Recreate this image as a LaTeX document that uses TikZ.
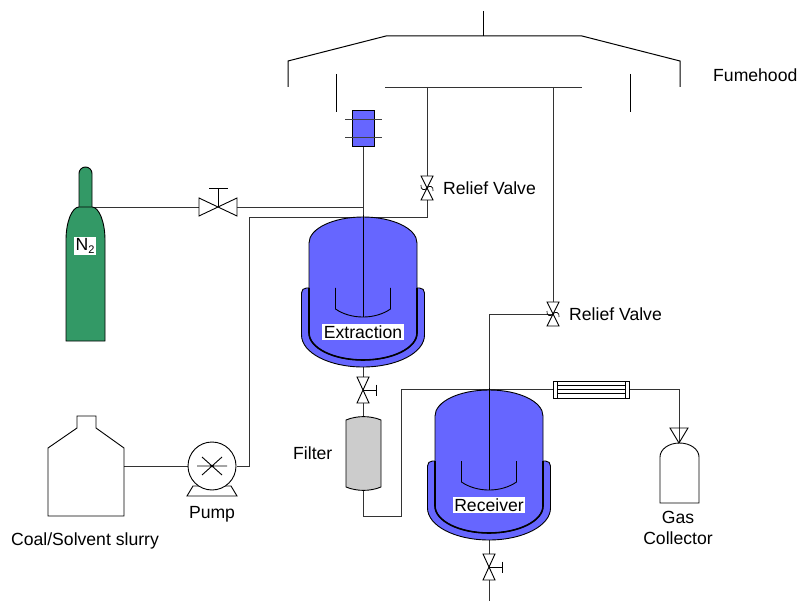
\documentclass[tikz,border=0pt]{standalone}
\usepackage{fontspec}
\setmainfont{Liberation Sans}
\definecolor{vesselblue}{HTML}{6666FF}
\definecolor{cylgreen}{HTML}{339966}
\definecolor{filtergray}{HTML}{CCCCCC}

% jacketed, stirred vessel: #1,#2 = dome apex, #3 = node name, #4 = label
\newcommand{\jacketedvessel}[4]{%
\begin{scope}[shift={(#1,#2)}]
  % heating jacket
  \filldraw[outline, fill=vesselblue] (-54,71) -- (-56.5,71)
    .. controls (-59.5,71) and (-61.5,73) .. (-61.5,76) -- (-61.5,118)
    .. controls (-61.5,135.7) and (-34,150) .. (0,150)
    .. controls (34,150) and (61.5,135.7) .. (61.5,118) -- (61.5,76)
    .. controls (61.5,73) and (59.5,71) .. (56.5,71) -- (54,71);
  % vessel shell
  \filldraw[outline, fill=vesselblue] (-54,26) -- (-54,116)
    .. controls (-54,130.9) and (-29.8,143) .. (0,143)
    .. controls (29.8,143) and (54,130.9) .. (54,116) -- (54,26)
    .. controls (54,11.6) and (29.8,0) .. (0,0)
    .. controls (-29.8,0) and (-54,11.6) .. (-54,26) -- cycle;
  \draw[line width=1.6pt] (-54,71) -- (-54,116)
    .. controls (-54,130.9) and (-29.8,143) .. (0,143)
    .. controls (29.8,143) and (54,130.9) .. (54,116) -- (54,71);
  % agitator
  \draw[outline] (0,-2) -- (0,100);
  \draw[outline] (-27.5,71) -- (-27.5,92)
    .. controls (-12,102.7) and (12,102.7) .. (27.5,92) -- (27.5,71);
  \node[tag] (#3) at (0,115) {#4};
\end{scope}}

% manual valve on a vertical line, handle to the right
\newcommand{\vvalve}[2]{%
\begin{scope}[shift={(#1,#2)}]
  \draw[outline, fill=white] (-6,-13) -- (6,-13) -- (0,0) -- cycle;
  \draw[outline, fill=white] (-6,13) -- (6,13) -- (0,0) -- cycle;
  \draw[outline] (0,0) -- (13,0) (13,-5.5) -- (13,5.5);
\end{scope}}

% spring-loaded relief valve on a vertical line
\newcommand{\reliefvalve}[2]{%
\begin{scope}[shift={(#1,#2)}]
  \draw[outline, fill=white] (-6,-12) -- (6,-12) -- (0,0) -- cycle;
  \draw[outline, fill=white] (-6,12) -- (6,12) -- (0,0) -- cycle;
  \draw[outline, line width=0.7pt] (-6,-3) .. controls (-7,2) and (-2,3) .. (0,0)
    .. controls (2,-3) and (7,-2) .. (6,3);
\end{scope}}

\begin{document}
\begin{tikzpicture}[x=1pt,y=-1pt,
  line join=miter,
  pipe/.style={draw=black!80, line width=0.9pt},
  outline/.style={draw=black, line width=0.9pt},
  hood/.style={draw=black, line width=1pt},
  lbl/.style={font=\fontsize{17.6}{21}\selectfont, inner sep=0pt},
  tag/.style={font=\fontsize{17.6}{21}\selectfont, fill=white, inner sep=1.5pt},
]
\useasboundingbox (0,0) rectangle (797,601);

% ---------------- fume hood ----------------
\draw[hood] (483,11) -- (483,36);
\draw[hood] (288,87) -- (288,61) -- (386,36) -- (582,36) -- (680,61) -- (680,87);
\draw[hood] (336,74) -- (336,112);
\draw[hood] (630,74) -- (630,112);
\draw[pipe] (385,87) -- (582,87);
\node[lbl, anchor=west] (fumehood) at (713,75) {Fumehood};

% ---------------- key ports ----------------
\coordinate (ventA) at (427,87);
\coordinate (ventB) at (553,87);
\coordinate (rv1) at (427,188);
\coordinate (rv2) at (553,314);
\coordinate (tee) at (363,207);
\coordinate (pumpc) at (212,466);

% ---------------- pipes ----------------
% vents to the hood header
\draw[pipe] (ventA) -- ([yshift=-12pt]rv1);
\draw[pipe] ([yshift=12pt]rv1) -- (427,217) -- (249,217) -- (249,466) -- (237,466);
\draw[pipe] (ventB) -- ([yshift=-12pt]rv2);
\draw[pipe] (rv2) -- (489,314) -- (489,390);
% nitrogen supply
\draw[pipe] (92,207) -- (199,207);
\draw[pipe] (237,207) -- (tee);
% condenser to extraction vessel
\draw[pipe] (363,146) -- (363,217);
% extraction outlet through filter to the heat exchanger
\draw[pipe] (363,367) -- (363,416);
\draw[pipe] (363,491) -- (363,516) -- (401,516) -- (401,389) -- (553,389);
\draw[pipe] (629,389) -- (679,389) -- (679,443);
% slurry feed
\draw[pipe] (124,466) -- (188,466);
% receiver drain
\draw[pipe] (489,540) -- (489,601);

% ---------------- overhead condenser ----------------
\filldraw[outline, fill=vesselblue] (352,110) rectangle (374,146);
\draw[outline, draw=black!75] (345,119) -- (382,119) (345,137) -- (382,137);

% ---------------- vessels ----------------
\jacketedvessel{363}{217}{extraction}{Extraction}
\jacketedvessel{489}{390}{receiver}{Receiver}

% ---------------- valves ----------------
\reliefvalve{427}{188}
\reliefvalve{553}{314}
\node[lbl, anchor=west] (rvlabel1) at (443,188) {Relief Valve};
\node[lbl, anchor=west] (rvlabel2) at (569,314) {Relief Valve};

\vvalve{363}{390}
\vvalve{489}{567}

% nitrogen valve (horizontal line, handwheel up)
\draw[outline, fill=white] (199,198) -- (199,216) -- (218,207) -- cycle;
\draw[outline, fill=white] (237,198) -- (237,216) -- (218,207) -- cycle;
\draw[outline] (218,207) -- (218,188) (209,188) -- (228,188);

% ---------------- nitrogen cylinder ----------------
\filldraw[outline, fill=cylgreen] (79,207) -- (79,173.5)
  .. controls (79,169.9) and (81.9,167) .. (85.5,167)
  .. controls (89.1,167) and (92,169.9) .. (92,173.5) -- (92,207);
\filldraw[outline, fill=cylgreen] (66,341) -- (66,240)
  .. controls (66,222) and (72,207) .. (79,207) -- (92,207)
  .. controls (99,207) and (105,222) .. (105,240) -- (105,341) -- cycle;
\node[font=\fontsize{17.6}{21}\selectfont, fill=white, inner sep=1.5pt] (n2) at (85,246)
  {N\raisebox{-0.35ex}{\fontsize{11}{11}\selectfont 2}};

% ---------------- filter ----------------
\filldraw[outline, fill=filtergray] (346,420)
  .. controls (357,415.5) and (370,415.5) .. (381,420) -- (381,487)
  .. controls (370,491.5) and (357,491.5) .. (346,487) -- cycle;
\node[lbl, anchor=west] (filter) at (293,453) {Filter};

% ---------------- gas/liquid heat exchanger ----------------
\draw[outline, fill=white] (553,381) rectangle (629,398);
\draw[outline] (557,381) -- (557,398) (625,381) -- (625,398);
\draw[outline] (557,385.5) -- (625,385.5) (557,389.5) -- (625,389.5) (557,393.5) -- (625,393.5);

% ---------------- gas collector ----------------
\draw[outline] (660,503) -- (660,457)
  .. controls (660,449.3) and (668.7,443) .. (679.5,443)
  .. controls (690.3,443) and (699,449.3) .. (699,457) -- (699,503) -- cycle;
\draw[outline] (670,428) -- (688,428) -- (679,443) -- cycle;
\node[lbl, align=center, font=\fontsize{17.6}{21}\selectfont] (gascollector) at (678,528) {Gas\\Collector};

% ---------------- slurry tank ----------------
\draw[outline] (48,516) -- (124,516) -- (124,448) -- (96,428) -- (96,416)
  -- (77,416) -- (77,428) -- (48,448) -- cycle;
\node[lbl] (slurry) at (85,541) {Coal/Solvent slurry};

% ---------------- pump ----------------
\draw[outline, fill=white] (187,496) -- (193,486) -- (231,486) -- (237,496) -- cycle;
\draw[outline, fill=white] (pumpc) circle[radius=24];
\draw[outline] (197,466) -- (227,466) (202,457) -- (222,475) (202,475) -- (222,457);
\node[lbl] (pump) at (212,514) {Pump};
\end{tikzpicture}
\end{document}
